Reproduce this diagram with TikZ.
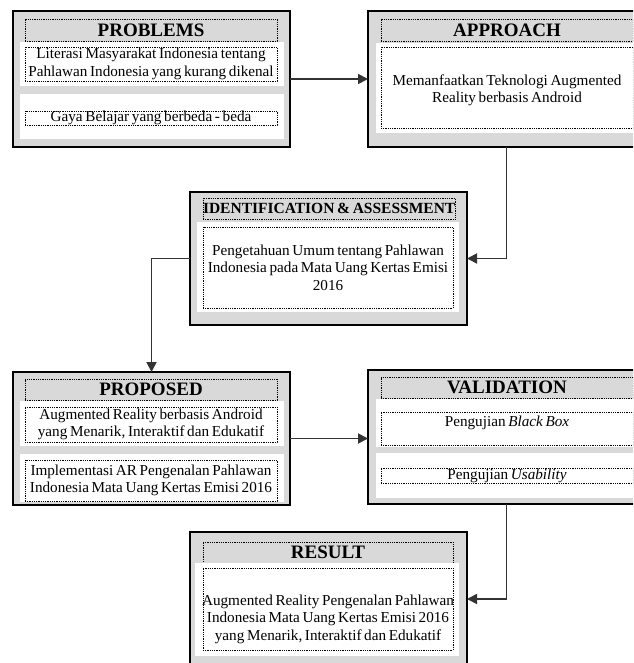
\documentclass[tikz,border=0pt]{standalone}
\usepackage{fontspec}
\setmainfont{Liberation Serif}[WordSpace=0.7]
\usetikzlibrary{positioning,arrows.meta}
\definecolor{boxgray}{HTML}{D9D9D9}

\begin{document}
\begin{tikzpicture}[x=1pt, y=-1pt,
  every node/.style={font={\fontsize{15.2}{17.5}\selectfont}},
  outerbox/.style={draw=black, line width=2.6pt, fill=boxgray, anchor=north west,
    inner sep=0pt, outer sep=0pt, minimum width=277pt},
  panel/.style={fill=white, anchor=north west, inner sep=0pt, outer sep=0pt},
  dotbox/.style={draw=black, densely dotted, line width=0.8pt, anchor=north west,
    inner sep=0pt, outer sep=0pt, align=center},
  boxtitle/.style={font={\fontsize{19}{20}\selectfont\bfseries}},
  flow/.style={draw=black!80, line width=1.8pt, -{Triangle[length=10pt,width=10pt]}}]
  \def\pw{264} % panel width
  \def\dw{252} % dotted width

  \useasboundingbox (0,0) rectangle (633,663);
  \clip (0,0) rectangle (633,663);

  % grey frames
  \foreach \nm/\x/\y/\h in {problems/13/11/136, approach/368/11/136,
      ident/190/192/133, proposed/13/372/133,
      validation/368/370/134, result/190/532/134}{
    \node[outerbox, minimum height=\h] (\nm) at (\x,\y) {};
  }

  % problems
  \node[dotbox, boxtitle, minimum width=\dw, minimum height=22] (problemsT) at (25,19) {PROBLEMS};
  \node[panel, minimum width=\pw, minimum height=44] (problemsA) at (20,42) {};
  \node[panel, minimum width=\pw, minimum height=45] (problemsB) at (20,94) {};
  \node[dotbox, minimum width=\dw, minimum height=34] (problemsDA) at (25,47)
    {Literasi Masyarakat Indonesia tentang\\Pahlawan Indonesia yang kurang dikenal};
  \node[dotbox, minimum width=\dw, minimum height=14] (problemsDB) at (25,111)
    {Gaya Belajar yang berbeda - beda};

  % approach
  \node[dotbox, boxtitle, minimum width=\dw, minimum height=22] (approachT) at (381,19) {APPROACH};
  \node[panel, minimum width=\pw, minimum height=90] (approachA) at (376,43) {};
  \node[dotbox, minimum width=\dw, minimum height=81] (approachD) at (381,47) {};
  \node[align=center] (approachTxt) at ([yshift=-3pt]approachD.center)
    {Memanfaatkan Teknologi Augmented\\Reality berbasis Android};

  % identification
  \node[dotbox, boxtitle, font={\fontsize{15.5}{17}\selectfont\bfseries}, minimum width=250,
    minimum height=21] (identT) at (203,198) {IDENTIFICATION \& ASSESSMENT};
  \node[panel, minimum width=262, minimum height=90] (identA) at (197,222) {};
  \node[dotbox, minimum width=250, minimum height=81] (identD) at (203,227)
    {Pengetahuan Umum tentang Pahlawan\\Indonesia pada Mata Uang Kertas Emisi\\2016};

  % proposed
  \node[dotbox, boxtitle, minimum width=\dw, minimum height=21] (proposedT) at (25,379) {PROPOSED};
  \node[panel, minimum width=\pw, minimum height=45] (proposedA) at (20,401) {};
  \node[panel, minimum width=\pw, minimum height=48] (proposedB) at (20,454) {};
  \node[dotbox, minimum width=\dw, minimum height=35] (proposedDA) at (25,407)
    {Augmented Reality berbasis Android\\yang Menarik, Interaktif dan Edukatif};
  \node[dotbox, minimum width=\dw, minimum height=41] (proposedDB) at (25,460)
    {Implementasi AR Pengenalan Pahlawan\\Indonesia Mata Uang Kertas Emisi 2016};

  % validation
  \node[dotbox, boxtitle, minimum width=\dw, minimum height=21] (validationT) at (381,377) {VALIDATION};
  \node[panel, minimum width=\pw, minimum height=48] (validationA) at (376,399) {};
  \node[panel, minimum width=\pw, minimum height=45] (validationB) at (376,453) {};
  \node[dotbox, minimum width=\dw, minimum height=33] (validationDA) at (381,412) {};
  \node (validationTxt) at ([yshift=6pt]validationDA.center) {Pengujian \textit{Black Box}};
  \node[dotbox, minimum width=\dw, minimum height=15] (validationDB) at (381,468)
    {Pengujian \textit{Usability}};

  % result
  \node[dotbox, boxtitle, minimum width=250, minimum height=21] (resultT) at (203,542) {RESULT};
  \node[panel, minimum width=\pw, minimum height=93] (resultA) at (195,563) {};
  \node[dotbox, minimum width=250, minimum height=82] (resultD) at (203,568) {};
  \node[align=center] (resultTxt) at ([yshift=-10pt]resultD.center)
    {Augmented Reality Pengenalan Pahlawan\\Indonesia Mata Uang Kertas Emisi 2016\\yang Menarik, Interaktif dan Edukatif};

  % alur
  \draw[flow] (problems.east) -- (approach.west);
  \draw[flow] (approach.south) |- (ident.east);
  \draw[flow] (ident.west) -| (proposed.north);
  \draw[flow] (proposed.east) -- (proposed.east -| validation.west);
  \draw[flow] (validation.south) |- (result.east);
\end{tikzpicture}
\end{document}
